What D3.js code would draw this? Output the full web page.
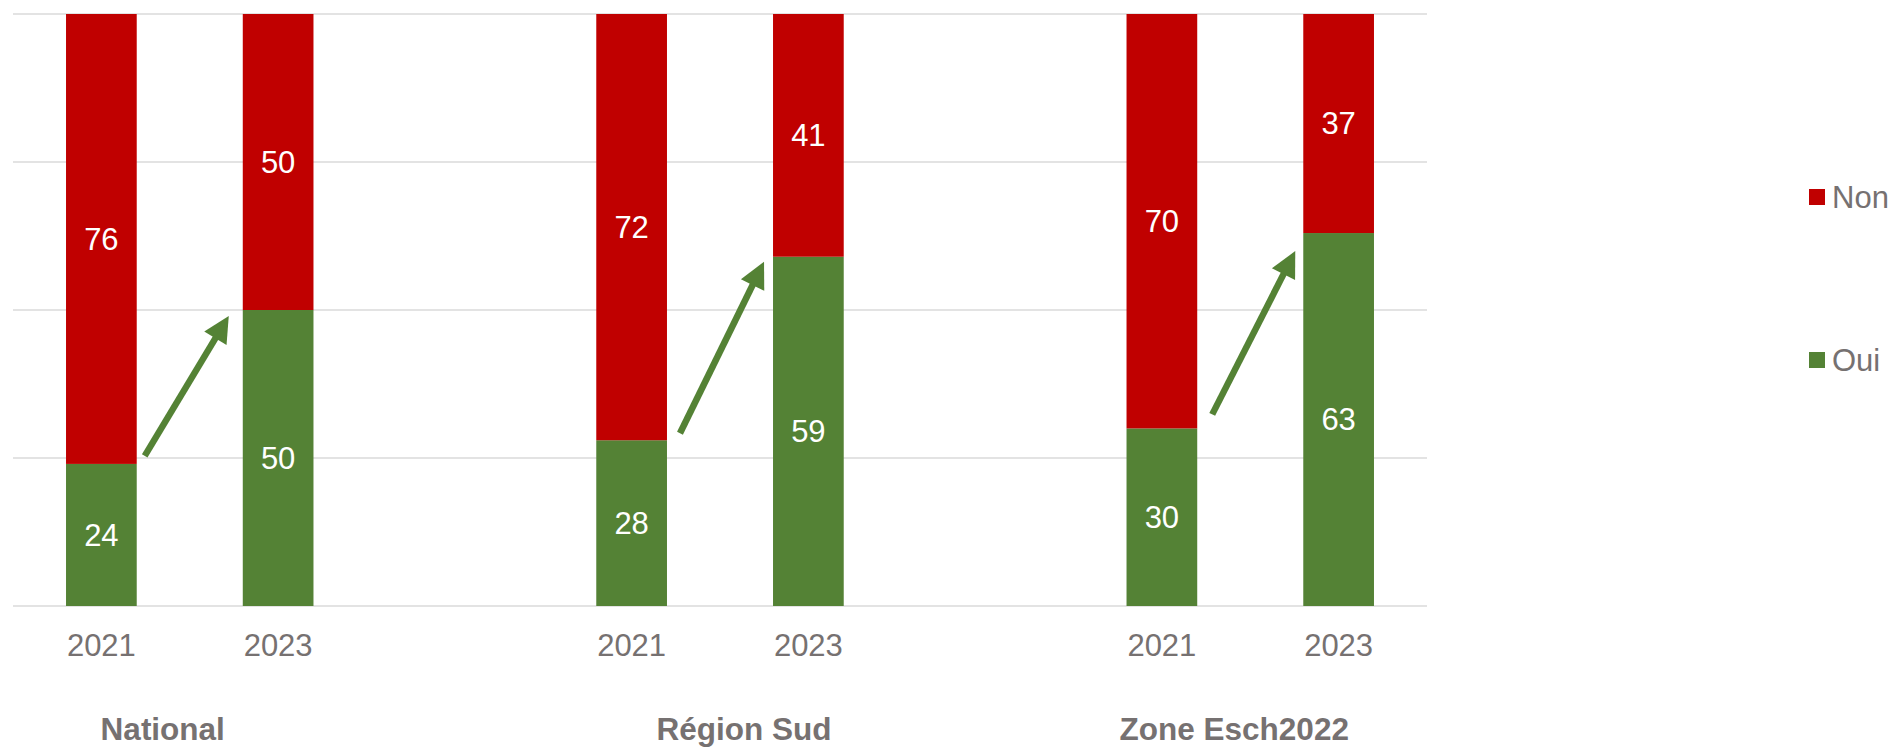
<!DOCTYPE html>
<html>
<head>
<meta charset="utf-8">
<script src="https://cdn.jsdelivr.net/npm/d3@7"></script>
<style>
  html, body { margin: 0; padding: 0; background: #fff; }
  svg { display: block; }
  text { font-family: "Liberation Sans", Arial, sans-serif; }
</style>
</head>
<body>
<svg id="chart" width="1893" height="748"></svg>
<script>
// ---- data ----
const groups = ["National", "Région Sud", "Zone Esch2022"];
const years = ["2021", "2023"];
const seriesNames = ["Oui", "Non"];
const oui = [24, 50, 28, 59, 30, 63];   // per group, per year
const non = [76, 50, 72, 41, 70, 37];
const yTicks = [0, 25, 50, 75, 100];

// ---- layout ----
const plot = { left: 13, right: 1427, top: 14, bottom: 606 };
const colors = { Oui: "#548235", Non: "#C00000" };
const textGray = "#767171";
const groupLabelDx = [-27, 24, -16];
// hand-placed arrow annotation offsets (tail relative to 2021 bar, head relative to 2023 bar)
const arrowTail = [[8, -8], [13, -7], [15, -14]];
const arrowHead = [[-14, 6], [-9, 5], [-8, 18]];

const svg = d3.select("#chart");

// slots: each group has 2 years, plus an empty slot between groups
const slots = [];
const bars = [];
groups.forEach((g, gi) => {
  years.forEach((yr, yi) => {
    const key = g + "|" + yr;
    slots.push(key);
    bars.push({ key, group: g, gi, year: yr, oui: oui[gi * 2 + yi], non: non[gi * 2 + yi] });
  });
  if (gi < groups.length - 1) slots.push("gap" + gi);
});

const x = d3.scaleBand().domain(slots).range([plot.left, plot.right])
  .paddingInner(0.6).paddingOuter(0.3);
const y = d3.scaleLinear().domain([0, 100]).range([plot.bottom, plot.top]);

// gridlines
svg.append("g").selectAll("line").data(yTicks).join("line")
  .attr("x1", plot.left).attr("x2", plot.right)
  .attr("y1", d => y(d)).attr("y2", d => y(d))
  .attr("stroke", "#e3e3e3").attr("stroke-width", 2);

// stacked bars
const stack = d3.stack().keys(["oui", "non"]);
const stacked = stack(bars);
const gBars = svg.append("g");
stacked.forEach(layer => {
  const name = layer.key === "oui" ? "Oui" : "Non";
  gBars.append("g").selectAll("rect").data(layer).join("rect")
    .attr("x", d => x(d.data.key))
    .attr("width", x.bandwidth())
    .attr("y", d => y(d[1]))
    .attr("height", d => y(d[0]) - y(d[1]))
    .attr("fill", colors[name]);
  gBars.append("g").selectAll("text").data(layer).join("text")
    .attr("x", d => x(d.data.key) + x.bandwidth() / 2)
    .attr("y", d => y((d[0] + d[1]) / 2))
    .attr("dy", "0.35em")
    .attr("text-anchor", "middle")
    .attr("fill", "#fff")
    .attr("font-size", 31)
    .text(d => d[1] - d[0]);
});

// year tick labels
svg.append("g").selectAll("text").data(bars).join("text")
  .attr("x", d => x(d.key) + x.bandwidth() / 2)
  .attr("y", plot.bottom + 50)
  .attr("text-anchor", "middle")
  .attr("fill", textGray)
  .attr("font-size", 31)
  .text(d => d.year);

// group labels
svg.append("g").selectAll("text").data(groups).join("text")
  .attr("x", (g, i) => {
    const a = x(g + "|" + years[0]), b = x(g + "|" + years[1]) + x.bandwidth();
    return (a + b) / 2 + groupLabelDx[i];
  })
  .attr("y", 740)
  .attr("text-anchor", "middle")
  .attr("fill", textGray)
  .attr("font-size", 31.5)
  .attr("font-weight", "bold")
  .text(g => g);

// arrows (Oui 2021 -> Oui 2023)
const green = colors.Oui;
const gArr = svg.append("g");
groups.forEach((g, gi) => {
  const b1 = bars[gi * 2], b2 = bars[gi * 2 + 1];
  const x0 = x(b1.key) + x.bandwidth() + arrowTail[gi][0], y0 = y(b1.oui) + arrowTail[gi][1];
  const x1 = x(b2.key) + arrowHead[gi][0], y1 = y(b2.oui) + arrowHead[gi][1];
  const ang = Math.atan2(y1 - y0, x1 - x0);
  const headLen = 26, headW = 13;
  const bx = x1 - headLen * Math.cos(ang), by = y1 - headLen * Math.sin(ang);
  gArr.append("line")
    .attr("x1", x0).attr("y1", y0)
    .attr("x2", x1 - (headLen - 4) * Math.cos(ang)).attr("y2", y1 - (headLen - 4) * Math.sin(ang))
    .attr("stroke", green).attr("stroke-width", 6.5);
  const px = -Math.sin(ang), py = Math.cos(ang);
  gArr.append("polygon")
    .attr("points", [
      [x1, y1],
      [bx + px * headW, by + py * headW],
      [bx - px * headW, by - py * headW]
    ].map(p => p.join(",")).join(" "))
    .attr("fill", green);
});

// legend
const legendItems = [
  { name: "Non", cy: 197 },
  { name: "Oui", cy: 360 }
];
const gLeg = svg.append("g");
legendItems.forEach(it => {
  gLeg.append("rect")
    .attr("x", 1809).attr("y", it.cy - 8)
    .attr("width", 16).attr("height", 16)
    .attr("fill", colors[it.name]);
  gLeg.append("text")
    .attr("x", 1832).attr("y", it.cy)
    .attr("dy", "0.35em")
    .attr("fill", textGray)
    .attr("font-size", 31)
    .text(it.name);
});
</script>
</body>
</html>
